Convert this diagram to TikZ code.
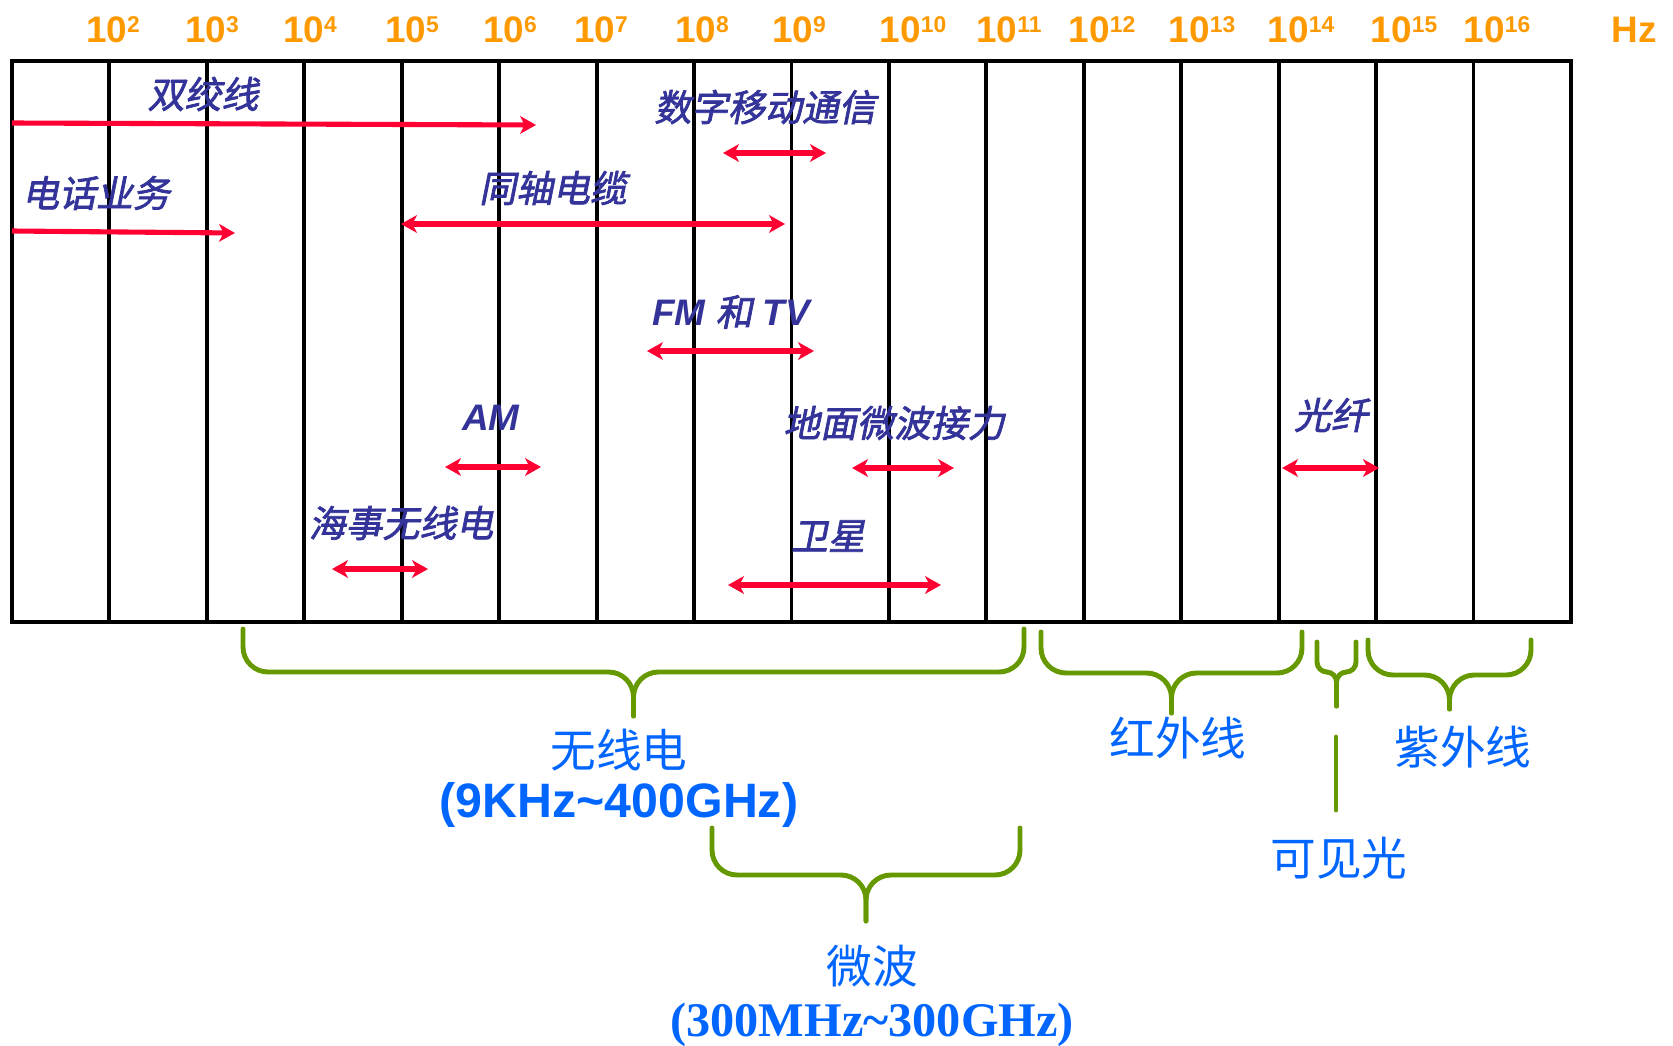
\documentclass[tikz,border=0pt]{standalone}
\usepackage{fontspec}
\setmainfont{Liberation Sans}
\newfontfamily\cjk{Noto Sans CJK SC}
\newfontfamily\cjksl[FakeSlant=0.2,FakeBold=2]{Noto Sans CJK SC}
\newfontfamily\timesbf{Liberation Serif}
\usetikzlibrary{arrows.meta}
\definecolor{bandorange}{HTML}{FF9900}
\definecolor{useblue}{HTML}{333399}
\definecolor{rangered}{HTML}{FF0033}
\definecolor{bracegreen}{HTML}{669900}
\definecolor{bandblue}{HTML}{0066FF}
\newcommand{\pw}[1]{10\raisebox{0.27em}{\fontsize{13}{13}\selectfont#1}}
% curly brace opening downwards: [radius]{x1}{x2}{ytop}{ymid}{ytip}
\newcommand{\ebrace}[6][0.5cm]{%
  \draw[bracel,rounded corners=#1] (#2,#4) -- (#2,#5) -- ({(#2+#3)/2},#5) -- ({(#2+#3)/2},#6);
  \draw[bracel,rounded corners=#1] (#3,#4) -- (#3,#5) -- ({(#2+#3)/2},#5) -- ({(#2+#3)/2},#6);}

\begin{document}
\begin{tikzpicture}[x=0.02cm,y=-0.02cm,
  >={Stealth[length=9pt,width=10pt,inset=2.5pt]},
  gridline/.style={line width=2.2pt},
  frameline/.style={line width=2.8pt},
  power/.style={font=\bfseries\fontsize{21}{25}\selectfont,text=bandorange,anchor=base,inner sep=0pt},
  uselbl/.style={font=\cjksl\fontsize{21}{25}\selectfont,text=useblue,inner sep=0pt},
  uselat/.style={font=\bfseries\itshape\fontsize{21}{25}\selectfont,text=useblue,inner sep=0pt},
  span/.style={line width=2.9pt,rangered},
  bracel/.style={line width=2.8pt,bracegreen,line cap=round},
  band/.style={font=\cjk\fontsize{26}{30}\selectfont,text=bandblue,inner sep=0pt},
  bandnum/.style={font=\bfseries\fontsize{27.5}{30}\selectfont,text=bandblue,inner sep=0pt},
]
\useasboundingbox (0,0) rectangle (1673,1045);

% frequency grid
\foreach \i in {1,...,15}
  \draw[gridline] ({12+97.43*\i},61) -- ({12+97.43*\i},622);
\draw[frameline] (12,61) rectangle (1571,622);

% decade labels (top)
\foreach \x/\e in {113/2,212/3,310/4,412/5,510/6,601/7,702/8,799/9,913/10,1009/11,1102/12,1202/13,1301/14,1404/15,1497/16}
  \node[power] (p\e) at (\x,42) {\pw{\e}};
\node[power] (hz) at (1634,42) {Hz};

% services
\node[uselbl] (twisted) at (203,94)  {双绞线};
\node[uselbl] (mobile)  at (765,107) {数字移动通信};
\node[uselbl] (phone)   at (96,193)  {电话业务};
\node[uselbl] (coax)    at (553,188) {同轴电缆};
\node[uselat] (fmtv) at (731,312) {FM {\cjksl\mdseries\upshape 和} TV};
\node[uselat] (am)   at (491,418) {AM};
\node[uselbl] (relay)   at (894,423) {地面微波接力};
\node[uselbl] (fiber)   at (1331,415) {光纤};
\node[uselbl] (marine)  at (401,523) {海事无线电};
\node[uselbl] (sat)     at (828,536) {卫星};

% service ranges
\draw[span,->]  (12,123) -- (536,125);
\draw[span,<->] (723,153) -- (826,153);
\draw[span,->]  (12,231) -- (235,233);
\draw[span,<->] (401,224) -- (785,224);
\draw[span,<->] (647,351) -- (814,351);
\draw[span,<->] (445,467) -- (541,467);
\draw[span,<->] (852,468) -- (954,468);
\draw[span,<->] (1282,468) -- (1379,468);
\draw[span,<->] (332,569) -- (428,569);
\draw[span,<->] (728,585) -- (941,585);

% bands (bottom)
\ebrace{243}{1024}{629}{672}{716}
\ebrace{712}{1020}{828}{875}{921}
\ebrace{1041}{1302}{632}{673}{713}
\ebrace[0.2cm]{1317}{1356}{642}{672}{706}
\ebrace{1368}{1531}{640}{675}{709}
\draw[bracel] (1336,737) -- (1336,810);

\node[band] (radio) at (619,750) {无线电};
\node[bandnum] (radiohz) at (619,805) {(9KHz\textasciitilde400GHz)};
\node[band] (micro) at (872,966) {微波};
\node[bandnum,font=\timesbf\bfseries\fontsize{27.5}{30}\selectfont] (microhz) at (872,1025) {(300MHz\textasciitilde300GHz)};
\node[band] (ir)  at (1178,738) {红外线};
\node[band] (vis) at (1339,858) {可见光};
\node[band] (uv)  at (1463,747) {紫外线};
\end{tikzpicture}
\end{document}
